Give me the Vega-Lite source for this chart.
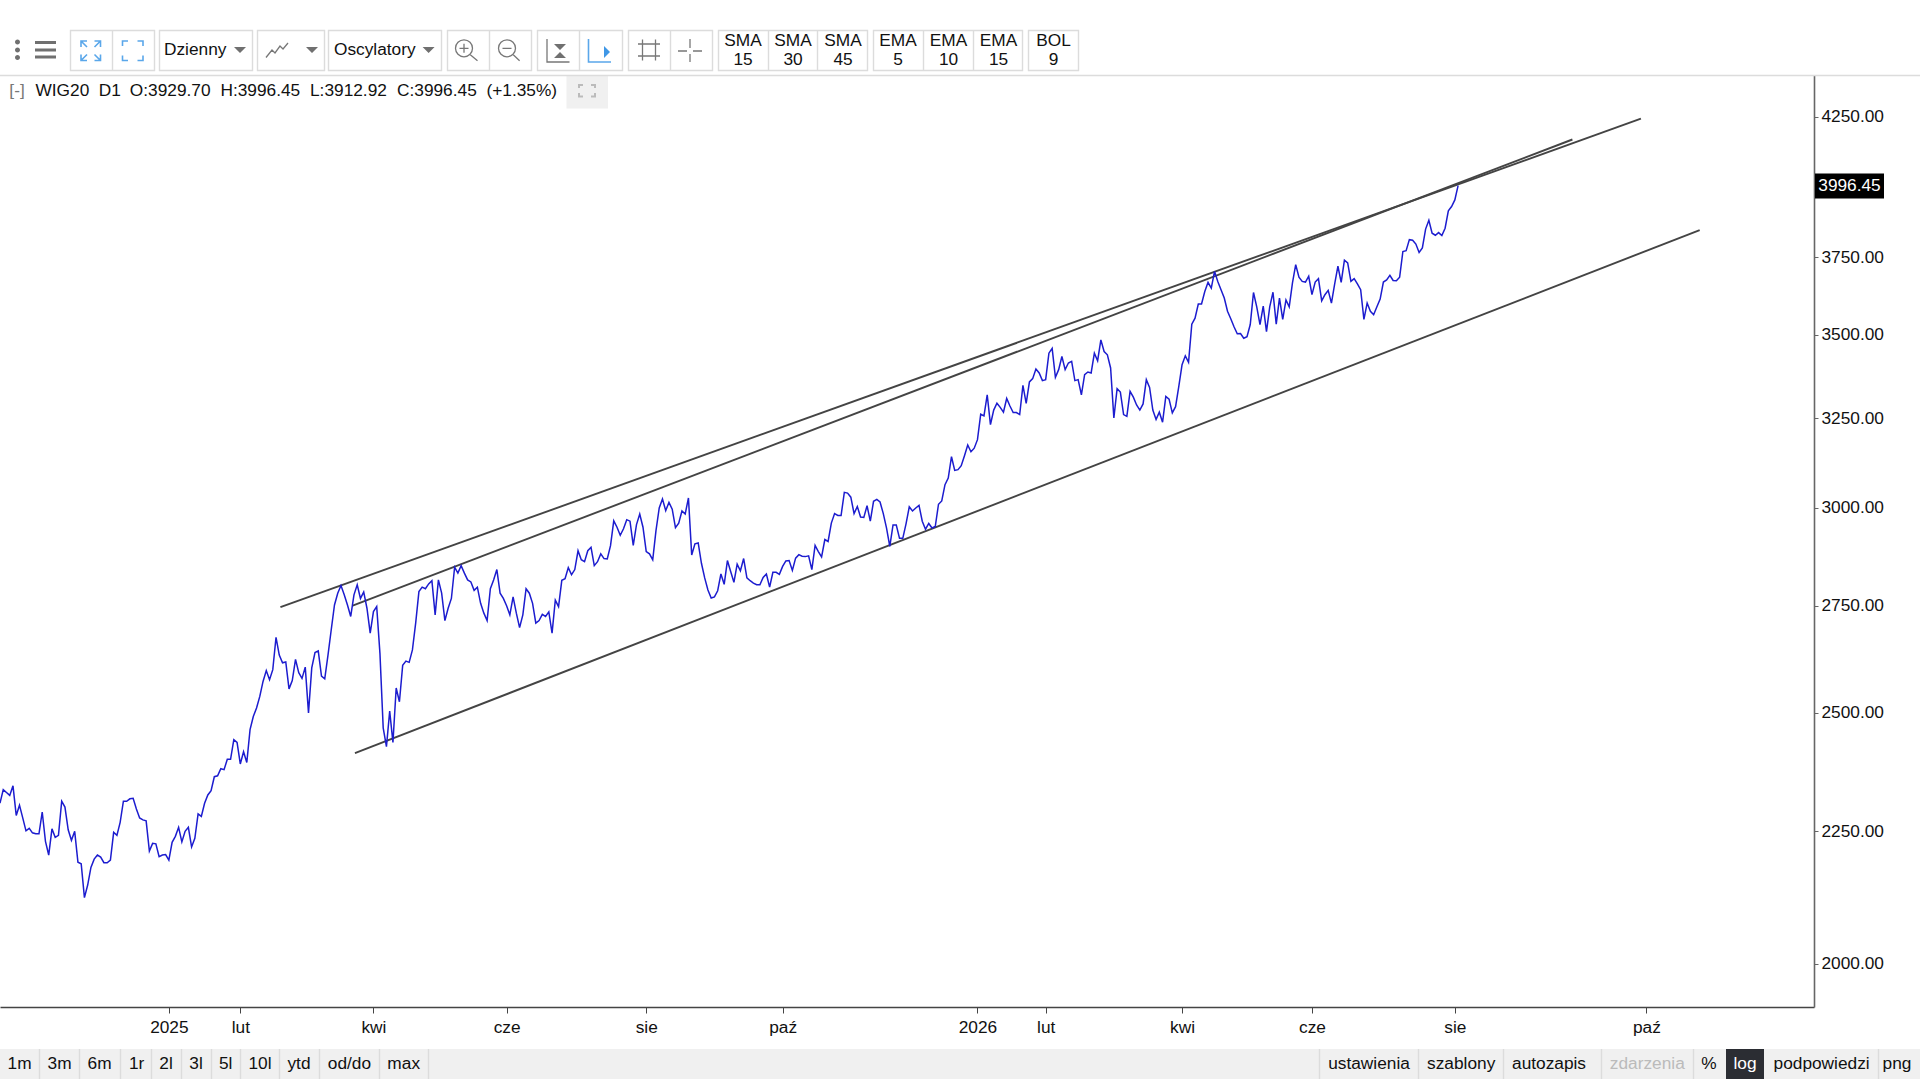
{
"$schema":"https://vega.github.io/schema/vega-lite/v6.json",
"autosize":{"type":"none"},
"padding":{"left":0,"top":75,"right":106,"bottom":73},
"width":1814,"height":932,
"background":"#ffffff",
"config":{"view":{"stroke":null},
"text":{"font":"Liberation Sans","fontSize":17.3,"baseline":"middle","align":"center","color":"#111111"}},
"datasets":{
"trend":[
{"line":"outer","session":86.35,"price":2746.5},{"line":"outer","session":505.3,"price":4241.8},
{"line":"inner","session":108.6,"price":2750.3},{"line":"inner","session":484.2,"price":4164},
{"line":"lower","session":109.3,"price":2412},{"line":"lower","session":523.4,"price":3841.6}],
"wig20":[
{"session":0,"close":2307},{"session":1,"close":2335},{"session":2,"close":2329},{"session":3,"close":2323},{"session":4,"close":2343},{"session":5,"close":2282},{"session":6,"close":2303},{"session":7,"close":2277},{"session":8,"close":2251},{"session":9,"close":2256},
{"session":10,"close":2247},{"session":11,"close":2245},{"session":12,"close":2245},{"session":13,"close":2289},{"session":14,"close":2230},{"session":15,"close":2203},{"session":16,"close":2255},{"session":17,"close":2238},{"session":18,"close":2242},{"session":19,"close":2311},
{"session":20,"close":2299},{"session":21,"close":2253},{"session":22,"close":2232},{"session":23,"close":2250},{"session":24,"close":2189},{"session":25,"close":2186},{"session":26,"close":2121},{"session":27,"close":2145},{"session":28,"close":2179},{"session":29,"close":2195},
{"session":30,"close":2203},{"session":31,"close":2199},{"session":32,"close":2188},{"session":33,"close":2188},{"session":34,"close":2193},{"session":35,"close":2248},{"session":36,"close":2242},{"session":37,"close":2268},{"session":38,"close":2311},{"session":39,"close":2311},
{"session":40,"close":2316},{"session":41,"close":2317},{"session":42,"close":2295},{"session":43,"close":2277},{"session":44,"close":2273},{"session":45,"close":2271},{"session":46,"close":2211},{"session":47,"close":2226},{"session":48,"close":2225},{"session":49,"close":2200},
{"session":50,"close":2203},{"session":51,"close":2204},{"session":52,"close":2193},{"session":53,"close":2228},{"session":54,"close":2240},{"session":55,"close":2258},{"session":56,"close":2229},{"session":57,"close":2250},{"session":58,"close":2258},{"session":59,"close":2219},
{"session":60,"close":2236},{"session":61,"close":2285},{"session":62,"close":2280},{"session":63,"close":2307},{"session":64,"close":2324},{"session":65,"close":2333},{"session":66,"close":2362},{"session":67,"close":2364},{"session":68,"close":2379},{"session":69,"close":2377},
{"session":70,"close":2399},{"session":71,"close":2399},{"session":72,"close":2441},{"session":73,"close":2435},{"session":74,"close":2389},{"session":75,"close":2415},{"session":76,"close":2392},{"session":77,"close":2463},{"session":78,"close":2492},{"session":79,"close":2511},
{"session":80,"close":2537},{"session":81,"close":2571},{"session":82,"close":2596},{"session":83,"close":2575},{"session":84,"close":2598},{"session":85,"close":2674},{"session":86,"close":2632},{"session":87,"close":2614},{"session":88,"close":2616},{"session":89,"close":2554},
{"session":90,"close":2573},{"session":91,"close":2622},{"session":92,"close":2591},{"session":93,"close":2578},{"session":94,"close":2604},{"session":95,"close":2500},{"session":96,"close":2602},{"session":97,"close":2638},{"session":98,"close":2642},{"session":99,"close":2583},
{"session":100,"close":2577},{"session":101,"close":2632},{"session":102,"close":2692},{"session":103,"close":2752},{"session":104,"close":2781},{"session":105,"close":2800},{"session":106,"close":2777},{"session":107,"close":2752},{"session":108,"close":2724},{"session":109,"close":2777},
{"session":110,"close":2802},{"session":111,"close":2768},{"session":112,"close":2784},{"session":113,"close":2744},{"session":114,"close":2684},{"session":115,"close":2736},{"session":116,"close":2748},{"session":117,"close":2636},{"session":118,"close":2467},{"session":119,"close":2426},
{"session":120,"close":2504},{"session":121,"close":2435},{"session":122,"close":2556},{"session":123,"close":2525},{"session":124,"close":2608},{"session":125,"close":2618},{"session":126,"close":2615},{"session":127,"close":2644},{"session":128,"close":2708},{"session":129,"close":2785},
{"session":130,"close":2796},{"session":131,"close":2792},{"session":132,"close":2804},{"session":133,"close":2812},{"session":134,"close":2728},{"session":135,"close":2814},{"session":136,"close":2781},{"session":137,"close":2714},{"session":138,"close":2744},{"session":139,"close":2768},
{"session":140,"close":2846},{"session":141,"close":2831},{"session":142,"close":2850},{"session":143,"close":2831},{"session":144,"close":2814},{"session":145,"close":2809},{"session":146,"close":2788},{"session":147,"close":2796},{"session":148,"close":2756},{"session":149,"close":2732},
{"session":150,"close":2714},{"session":151,"close":2792},{"session":152,"close":2814},{"session":153,"close":2840},{"session":154,"close":2781},{"session":155,"close":2768},{"session":156,"close":2750},{"session":157,"close":2728},{"session":158,"close":2772},{"session":159,"close":2732},
{"session":160,"close":2697},{"session":161,"close":2728},{"session":162,"close":2792},{"session":163,"close":2781},{"session":164,"close":2756},{"session":165,"close":2708},{"session":166,"close":2714},{"session":167,"close":2729},{"session":168,"close":2724},{"session":169,"close":2735},
{"session":170,"close":2684},{"session":171,"close":2764},{"session":172,"close":2748},{"session":173,"close":2813},{"session":174,"close":2817},{"session":175,"close":2845},{"session":176,"close":2827},{"session":177,"close":2840},{"session":178,"close":2888},{"session":179,"close":2865},
{"session":180,"close":2860},{"session":181,"close":2888},{"session":182,"close":2897},{"session":183,"close":2850},{"session":184,"close":2860},{"session":185,"close":2880},{"session":186,"close":2868},{"session":187,"close":2867},{"session":188,"close":2901},{"session":189,"close":2966},
{"session":190,"close":2949},{"session":191,"close":2928},{"session":192,"close":2945},{"session":193,"close":2969},{"session":194,"close":2965},{"session":195,"close":2902},{"session":196,"close":2956},{"session":197,"close":2984},{"session":198,"close":2949},{"session":199,"close":2886},
{"session":200,"close":2880},{"session":201,"close":2865},{"session":202,"close":2940},{"session":203,"close":3000},{"session":204,"close":3024},{"session":205,"close":2993},{"session":206,"close":3015},{"session":207,"close":2997},{"session":208,"close":2948},{"session":209,"close":2960},
{"session":210,"close":2992},{"session":211,"close":2984},{"session":212,"close":3027},{"session":213,"close":2877},{"session":214,"close":2906},{"session":215,"close":2908},{"session":216,"close":2856},{"session":217,"close":2819},{"session":218,"close":2789},{"session":219,"close":2769},
{"session":220,"close":2772},{"session":221,"close":2787},{"session":222,"close":2829},{"session":223,"close":2803},{"session":224,"close":2863},{"session":225,"close":2835},{"session":226,"close":2808},{"session":227,"close":2854},{"session":228,"close":2837},{"session":229,"close":2868},
{"session":230,"close":2819},{"session":231,"close":2812},{"session":232,"close":2806},{"session":233,"close":2802},{"session":234,"close":2802},{"session":235,"close":2820},{"session":236,"close":2829},{"session":237,"close":2796},{"session":238,"close":2833},{"session":239,"close":2833},
{"session":240,"close":2828},{"session":241,"close":2848},{"session":242,"close":2862},{"session":243,"close":2863},{"session":244,"close":2838},{"session":245,"close":2869},{"session":246,"close":2878},{"session":247,"close":2874},{"session":248,"close":2873},{"session":249,"close":2875},
{"session":250,"close":2840},{"session":251,"close":2902},{"session":252,"close":2886},{"session":253,"close":2872},{"session":254,"close":2917},{"session":255,"close":2912},{"session":256,"close":2960},{"session":257,"close":2985},{"session":258,"close":2980},{"session":259,"close":2980},
{"session":260,"close":3042},{"session":261,"close":3040},{"session":262,"close":3029},{"session":263,"close":2985},{"session":264,"close":3004},{"session":265,"close":2976},{"session":266,"close":2975},{"session":267,"close":3006},{"session":268,"close":2965},{"session":269,"close":3018},
{"session":270,"close":3023},{"session":271,"close":3016},{"session":272,"close":2985},{"session":273,"close":2947},{"session":274,"close":2899},{"session":275,"close":2955},{"session":276,"close":2955},{"session":277,"close":2920},{"session":278,"close":2920},{"session":279,"close":2958},
{"session":280,"close":3003},{"session":281,"close":2992},{"session":282,"close":3000},{"session":283,"close":3007},{"session":284,"close":2965},{"session":285,"close":2944},{"session":286,"close":2959},{"session":287,"close":2947},{"session":288,"close":2951},{"session":289,"close":3010},
{"session":290,"close":3019},{"session":291,"close":3063},{"session":292,"close":3081},{"session":293,"close":3140},{"session":294,"close":3102},{"session":295,"close":3104},{"session":296,"close":3115},{"session":297,"close":3143},{"session":298,"close":3173},{"session":299,"close":3154},
{"session":300,"close":3164},{"session":301,"close":3188},{"session":302,"close":3261},{"session":303,"close":3256},{"session":304,"close":3318},{"session":305,"close":3231},{"session":306,"close":3273},{"session":307,"close":3293},{"session":308,"close":3281},{"session":309,"close":3267},
{"session":310,"close":3307},{"session":311,"close":3285},{"session":312,"close":3266},{"session":313,"close":3266},{"session":314,"close":3260},{"session":315,"close":3346},{"session":316,"close":3293},{"session":317,"close":3356},{"session":318,"close":3366},{"session":319,"close":3395},
{"session":320,"close":3383},{"session":321,"close":3360},{"session":322,"close":3363},{"session":323,"close":3443},{"session":324,"close":3458},{"session":325,"close":3370},{"session":326,"close":3393},{"session":327,"close":3433},{"session":328,"close":3393},{"session":329,"close":3413},
{"session":330,"close":3418},{"session":331,"close":3360},{"session":332,"close":3363},{"session":333,"close":3318},{"session":334,"close":3378},{"session":335,"close":3386},{"session":336,"close":3383},{"session":337,"close":3443},{"session":338,"close":3420},{"session":339,"close":3484},
{"session":340,"close":3448},{"session":341,"close":3438},{"session":342,"close":3398},{"session":343,"close":3250},{"session":344,"close":3336},{"session":345,"close":3326},{"session":346,"close":3260},{"session":347,"close":3255},{"session":348,"close":3328},{"session":349,"close":3311},
{"session":350,"close":3288},{"session":351,"close":3273},{"session":352,"close":3291},{"session":353,"close":3363},{"session":354,"close":3340},{"session":355,"close":3273},{"session":356,"close":3246},{"session":357,"close":3267},{"session":358,"close":3238},{"session":359,"close":3313},
{"session":360,"close":3305},{"session":361,"close":3265},{"session":362,"close":3283},{"session":363,"close":3343},{"session":364,"close":3408},{"session":365,"close":3435},{"session":366,"close":3415},{"session":367,"close":3533},{"session":368,"close":3552},{"session":369,"close":3597},
{"session":370,"close":3597},{"session":371,"close":3637},{"session":372,"close":3667},{"session":373,"close":3648},{"session":374,"close":3703},{"session":375,"close":3670},{"session":376,"close":3643},{"session":377,"close":3616},{"session":378,"close":3574},{"session":379,"close":3550},
{"session":380,"close":3525},{"session":381,"close":3503},{"session":382,"close":3504},{"session":383,"close":3489},{"session":384,"close":3494},{"session":385,"close":3532},{"session":386,"close":3634},{"session":387,"close":3588},{"session":388,"close":3532},{"session":389,"close":3590},
{"session":390,"close":3510},{"session":391,"close":3588},{"session":392,"close":3635},{"session":393,"close":3533},{"session":394,"close":3616},{"session":395,"close":3548},{"session":396,"close":3610},{"session":397,"close":3588},{"session":398,"close":3665},{"session":399,"close":3725},
{"session":400,"close":3684},{"session":401,"close":3670},{"session":402,"close":3668},{"session":403,"close":3687},{"session":404,"close":3627},{"session":405,"close":3668},{"session":406,"close":3679},{"session":407,"close":3607},{"session":408,"close":3627},{"session":409,"close":3641},
{"session":410,"close":3600},{"session":411,"close":3662},{"session":412,"close":3720},{"session":413,"close":3667},{"session":414,"close":3740},{"session":415,"close":3731},{"session":416,"close":3670},{"session":417,"close":3679},{"session":418,"close":3662},{"session":419,"close":3643},
{"session":420,"close":3548},{"session":421,"close":3600},{"session":422,"close":3574},{"session":423,"close":3563},{"session":424,"close":3588},{"session":425,"close":3613},{"session":426,"close":3668},{"session":427,"close":3675},{"session":428,"close":3690},{"session":429,"close":3673},
{"session":430,"close":3672},{"session":431,"close":3684},{"session":432,"close":3769},{"session":433,"close":3772},{"session":434,"close":3809},{"session":435,"close":3807},{"session":436,"close":3794},{"session":437,"close":3766},{"session":438,"close":3781},{"session":439,"close":3845},
{"session":440,"close":3875},{"session":441,"close":3831},{"session":442,"close":3824},{"session":443,"close":3833},{"session":444,"close":3823},{"session":445,"close":3848},{"session":446,"close":3908},{"session":447,"close":3923},{"session":448,"close":3946},{"session":449,"close":3996.45}
]},
"layer":[
{"layer":[
{"data":{"values":[{"part":"range bar"}]},"mark":{"type":"rect","color":"#f0f0f0"},"encoding":{"x":{"datum":0,"axis":null,"scale":{"domain":[0,1814],"nice":false,"zero":false}},"x2":{"datum":1920},"y":{"datum":1049,"axis":null,"scale":{"domain":[1007,75],"nice":false,"zero":false}},"y2":{"datum":1079}}},
{"data":{"values":[{"part":"log"}]},"mark":{"type":"rect","color":"#2b2d33"},"encoding":{"x":{"datum":1726,"axis":null},"x2":{"datum":1764},"y":{"datum":1049,"axis":null},"y2":{"datum":1079}}},
{"data":{"values":[{"part":"last price"}]},"mark":{"type":"rect","color":"#000000"},"encoding":{"x":{"datum":1815,"axis":null},"x2":{"datum":1884},"y":{"datum":173.5,"axis":null},"y2":{"datum":198.5}}},
{"data":{"values":[{"part":"fullscreen"}]},"mark":{"type":"rect","color":"#f0f0f0"},"encoding":{"x":{"datum":566.5,"axis":null},"x2":{"datum":608,"axis":null},"y":{"datum":76,"axis":null},"y2":{"datum":108.5}}},
{"data":{"values":[{"icon":"boxes"}]},"mark":{"type":"point","size":4,"opacity":1,"filled":false,"stroke":"#dcdcdc","strokeWidth":1.4,"shape":"M70.5 30.5H154.5V70.5H70.5Z M112.5 30.5V70.5 M159.5 30.5H252.5V70.5H159.5Z M257.5 30.5H324.5V70.5H257.5Z M328.5 30.5H441.5V70.5H328.5Z M447.5 30.5H531.5V70.5H447.5Z M489.5 30.5V70.5 M537.5 30.5H622.5V70.5H537.5Z M579.5 30.5V70.5 M628.5 30.5H712.5V70.5H628.5Z M670.5 30.5V70.5 M718.5 30.5H867.5V70.5H718.5Z M768.5 30.5V70.5 M817.5 30.5V70.5 M873.5 30.5H1022.5V70.5H873.5Z M923.5 30.5V70.5 M973.5 30.5V70.5 M1028.5 30.5H1078.5V70.5H1028.5Z M0 75.5H1814 M1814 75.5H1920 M39.5 1049V1079 M79.5 1049V1079 M120.5 1049V1079 M151.5 1049V1079 M181.5 1049V1079 M211.5 1049V1079 M240.5 1049V1079 M279.5 1049V1079 M319.5 1049V1079 M379.5 1049V1079 M428.5 1049V1079 M1319.5 1049V1079 M1418.5 1049V1079 M1503.5 1049V1079 M1601.5 1049V1079 M1693.5 1049V1079 M1878.5 1049V1079"},"encoding":{"x":{"datum":0,"axis":null},"y":{"datum":0,"axis":null}}},
{"data":{"values":[{"icon":"menu and arrows"}]},"mark":{"type":"point","size":4,"opacity":1,"filled":true,"fill":"#707070","shape":"M20 42a2.5 2.5 0 1 1-5 0a2.5 2.5 0 1 1 5 0Z M20 50a2.5 2.5 0 1 1-5 0a2.5 2.5 0 1 1 5 0Z M20 57.5a2.5 2.5 0 1 1-5 0a2.5 2.5 0 1 1 5 0Z M35 41h21v3h-21Z M35 48.5h21v3h-21Z M35 55.5h21v3h-21Z M234 47h12l-6 6Z M306 47h12l-6 6Z M422.6 47h12l-6 6Z M554 44h12l-6 6Z M554 58h12l-6 -6Z"},"encoding":{"x":{"datum":0,"axis":null},"y":{"datum":0,"axis":null}}},
{"data":{"values":[{"icon":"blue outlines"}]},"mark":{"type":"point","size":4,"opacity":1,"filled":false,"stroke":"#5aa7ea","strokeWidth":1.6,"shape":"M81 47V41H87 M81 41L87 47 M100.5 47V41H94.5 M100.5 41L94.5 47 M81 54.5V60.5H87 M81 60.5L87 54.5 M100.5 54.5V60.5H94.5 M100.5 60.5L94.5 54.5 M122.5 46V41H128 M137.5 41H143V46 M143 55.5V60.5H137.5 M128 60.5H122.5V55.5 M588.5 39V62H611"},"encoding":{"x":{"datum":0,"axis":null},"y":{"datum":0,"axis":null}}},
{"data":{"values":[{"icon":"blue play"}]},"mark":{"type":"point","size":4,"opacity":1,"filled":true,"fill":"#3f97e6","shape":"M604 46l6 6-6 6Z"},"encoding":{"x":{"datum":0,"axis":null},"y":{"datum":0,"axis":null}}},
{"data":{"values":[{"icon":"grey outlines"}]},"mark":{"type":"point","size":4,"opacity":1,"filled":false,"stroke":"#777777","strokeWidth":1.3,"shape":"M266 57.5L272 50L275 53L280 46L283 49L288 43 M472.5 48.3a8.5 8.5 0 1 1-17 0a8.5 8.5 0 1 1 17 0Z M470 54.5L477.5 60.7 M459.5 48.3h9 M464 43.8v9 M515.5 48.3a8.5 8.5 0 1 1-17 0a8.5 8.5 0 1 1 17 0Z M513 54.5L519.6 60.7 M502.5 48.3h9 M547 39V62H569.5 M642.5 39.5V60.5 M655.5 39.5V60.5 M638 44H660 M638 56H660 M678 51H687 M693 51H702 M690 39V48 M690 54V62"},"encoding":{"x":{"datum":0,"axis":null},"y":{"datum":0,"axis":null}}},
{"data":{"values":[{"icon":"fullscreen corners"}]},"mark":{"type":"point","size":4,"opacity":1,"filled":false,"stroke":"#bbbbbb","strokeWidth":2,"shape":"M579 88V85H583 M591 85H595V88 M595 93V96.5H591 M583 96.5H579V93"},"encoding":{"x":{"datum":0,"axis":null},"y":{"datum":0,"axis":null}}},
{"data":{"values":[{"label":"Dzienny"}]},"mark":{"type":"text","align":"left"},"encoding":{"x":{"datum":164,"axis":null},"y":{"datum":50,"axis":null},"text":{"field":"label"}}},
{"data":{"values":[{"label":"Oscylatory"}]},"mark":{"type":"text","align":"left"},"encoding":{"x":{"datum":334,"axis":null},"y":{"datum":50,"axis":null},"text":{"field":"label"}}},
{"data":{"values":[{"label":"SMA"}]},"mark":"text","encoding":{"x":{"datum":743,"axis":null},"y":{"datum":41,"axis":null},"text":{"field":"label"}}},
{"data":{"values":[{"label":"15"}]},"mark":"text","encoding":{"x":{"datum":743,"axis":null},"y":{"datum":60,"axis":null},"text":{"field":"label"}}},
{"data":{"values":[{"label":"SMA"}]},"mark":"text","encoding":{"x":{"datum":793,"axis":null},"y":{"datum":41,"axis":null},"text":{"field":"label"}}},
{"data":{"values":[{"label":"30"}]},"mark":"text","encoding":{"x":{"datum":793,"axis":null},"y":{"datum":60,"axis":null},"text":{"field":"label"}}},
{"data":{"values":[{"label":"SMA"}]},"mark":"text","encoding":{"x":{"datum":843,"axis":null},"y":{"datum":41,"axis":null},"text":{"field":"label"}}},
{"data":{"values":[{"label":"45"}]},"mark":"text","encoding":{"x":{"datum":843,"axis":null},"y":{"datum":60,"axis":null},"text":{"field":"label"}}},
{"data":{"values":[{"label":"EMA"}]},"mark":"text","encoding":{"x":{"datum":898,"axis":null},"y":{"datum":41,"axis":null},"text":{"field":"label"}}},
{"data":{"values":[{"label":"5"}]},"mark":"text","encoding":{"x":{"datum":898,"axis":null},"y":{"datum":60,"axis":null},"text":{"field":"label"}}},
{"data":{"values":[{"label":"EMA"}]},"mark":"text","encoding":{"x":{"datum":948.5,"axis":null},"y":{"datum":41,"axis":null},"text":{"field":"label"}}},
{"data":{"values":[{"label":"10"}]},"mark":"text","encoding":{"x":{"datum":948.5,"axis":null},"y":{"datum":60,"axis":null},"text":{"field":"label"}}},
{"data":{"values":[{"label":"EMA"}]},"mark":"text","encoding":{"x":{"datum":998.5,"axis":null},"y":{"datum":41,"axis":null},"text":{"field":"label"}}},
{"data":{"values":[{"label":"15"}]},"mark":"text","encoding":{"x":{"datum":998.5,"axis":null},"y":{"datum":60,"axis":null},"text":{"field":"label"}}},
{"data":{"values":[{"label":"BOL"}]},"mark":"text","encoding":{"x":{"datum":1053.5,"axis":null},"y":{"datum":41,"axis":null},"text":{"field":"label"}}},
{"data":{"values":[{"label":"9"}]},"mark":"text","encoding":{"x":{"datum":1053.5,"axis":null},"y":{"datum":60,"axis":null},"text":{"field":"label"}}},
{"data":{"values":[{"label":"[-]"}]},"mark":{"type":"text","color":"#777777"},"encoding":{"x":{"datum":17,"axis":null},"y":{"datum":91,"axis":null},"text":{"field":"label"}}},
{"data":{"values":[{"label":"WIG20"}]},"mark":{"type":"text","align":"left"},"encoding":{"x":{"datum":35.5,"axis":null},"y":{"datum":91,"axis":null},"text":{"field":"label"}}},
{"data":{"values":[{"label":"D1"}]},"mark":{"type":"text","align":"left"},"encoding":{"x":{"datum":98.8,"axis":null},"y":{"datum":91,"axis":null},"text":{"field":"label"}}},
{"data":{"values":[{"label":"O:3929.70"}]},"mark":{"type":"text","align":"left"},"encoding":{"x":{"datum":129.8,"axis":null},"y":{"datum":91,"axis":null},"text":{"field":"label"}}},
{"data":{"values":[{"label":"H:3996.45"}]},"mark":{"type":"text","align":"left"},"encoding":{"x":{"datum":220.4,"axis":null},"y":{"datum":91,"axis":null},"text":{"field":"label"}}},
{"data":{"values":[{"label":"L:3912.92"}]},"mark":{"type":"text","align":"left"},"encoding":{"x":{"datum":310,"axis":null},"y":{"datum":91,"axis":null},"text":{"field":"label"}}},
{"data":{"values":[{"label":"C:3996.45"}]},"mark":{"type":"text","align":"left"},"encoding":{"x":{"datum":397,"axis":null},"y":{"datum":91,"axis":null},"text":{"field":"label"}}},
{"data":{"values":[{"label":"(+1.35%)"}]},"mark":{"type":"text","align":"left"},"encoding":{"x":{"datum":486.5,"axis":null},"y":{"datum":91,"axis":null},"text":{"field":"label"}}},
{"data":{"values":[{"label":"3996.45"}]},"mark":{"type":"text","color":"#ffffff"},"encoding":{"x":{"datum":1849.5,"axis":null},"y":{"datum":186,"axis":null},"text":{"field":"label"}}},
{"data":{"values":[{"label":"1m"}]},"mark":"text","encoding":{"x":{"datum":19.6,"axis":null},"y":{"datum":1064,"axis":null},"text":{"field":"label"}}},
{"data":{"values":[{"label":"3m"}]},"mark":"text","encoding":{"x":{"datum":59.6,"axis":null},"y":{"datum":1064,"axis":null},"text":{"field":"label"}}},
{"data":{"values":[{"label":"6m"}]},"mark":"text","encoding":{"x":{"datum":99.6,"axis":null},"y":{"datum":1064,"axis":null},"text":{"field":"label"}}},
{"data":{"values":[{"label":"1r"}]},"mark":"text","encoding":{"x":{"datum":136.7,"axis":null},"y":{"datum":1064,"axis":null},"text":{"field":"label"}}},
{"data":{"values":[{"label":"2l"}]},"mark":"text","encoding":{"x":{"datum":166,"axis":null},"y":{"datum":1064,"axis":null},"text":{"field":"label"}}},
{"data":{"values":[{"label":"3l"}]},"mark":"text","encoding":{"x":{"datum":196,"axis":null},"y":{"datum":1064,"axis":null},"text":{"field":"label"}}},
{"data":{"values":[{"label":"5l"}]},"mark":"text","encoding":{"x":{"datum":225.7,"axis":null},"y":{"datum":1064,"axis":null},"text":{"field":"label"}}},
{"data":{"values":[{"label":"10l"}]},"mark":"text","encoding":{"x":{"datum":260,"axis":null},"y":{"datum":1064,"axis":null},"text":{"field":"label"}}},
{"data":{"values":[{"label":"ytd"}]},"mark":"text","encoding":{"x":{"datum":299,"axis":null},"y":{"datum":1064,"axis":null},"text":{"field":"label"}}},
{"data":{"values":[{"label":"od/do"}]},"mark":"text","encoding":{"x":{"datum":349.4,"axis":null},"y":{"datum":1064,"axis":null},"text":{"field":"label"}}},
{"data":{"values":[{"label":"max"}]},"mark":"text","encoding":{"x":{"datum":403.7,"axis":null},"y":{"datum":1064,"axis":null},"text":{"field":"label"}}},
{"data":{"values":[{"label":"ustawienia"}]},"mark":"text","encoding":{"x":{"datum":1369,"axis":null},"y":{"datum":1064,"axis":null},"text":{"field":"label"}}},
{"data":{"values":[{"label":"szablony"}]},"mark":"text","encoding":{"x":{"datum":1461.2,"axis":null},"y":{"datum":1064,"axis":null},"text":{"field":"label"}}},
{"data":{"values":[{"label":"autozapis"}]},"mark":"text","encoding":{"x":{"datum":1549,"axis":null},"y":{"datum":1064,"axis":null},"text":{"field":"label"}}},
{"data":{"values":[{"label":"zdarzenia"}]},"mark":{"type":"text","color":"#bbbbbb"},"encoding":{"x":{"datum":1647.3,"axis":null},"y":{"datum":1064,"axis":null},"text":{"field":"label"}}},
{"data":{"values":[{"label":"%"}]},"mark":"text","encoding":{"x":{"datum":1709,"axis":null},"y":{"datum":1064,"axis":null},"text":{"field":"label"}}},
{"data":{"values":[{"label":"log"}]},"mark":{"type":"text","color":"#ffffff"},"encoding":{"x":{"datum":1745,"axis":null},"y":{"datum":1064,"axis":null},"text":{"field":"label"}}},
{"data":{"values":[{"label":"podpowiedzi"}]},"mark":"text","encoding":{"x":{"datum":1821.6,"axis":null},"y":{"datum":1064,"axis":null},"text":{"field":"label"}}},
{"data":{"values":[{"label":"png"}]},"mark":"text","encoding":{"x":{"datum":1897,"axis":null},"y":{"datum":1064,"axis":null},"text":{"field":"label"}}}
]},
{"layer":[
{"data":{"name":"trend"},"mark":{"type":"line","color":"#444444","strokeWidth":1.9},"encoding":{
"x":{"field":"session","type":"quantitative","scale":{"domain":[0,558.6],"nice":false,"zero":false},
"axis":{"title":null,"orient":"bottom","grid":false,"values":[52,74,115,156,199,241,301,322,364,404,448,507],"labelExpr":"['2025','lut','kwi','cze','sie','paź','2026','lut','kwi','cze','sie','paź'][indexof([52,74,115,156,199,241,301,322,364,404,448,507],datum.value)]","labelFont":"Liberation Sans","labelFontSize":17.3,"labelColor":"#111111","labelPadding":5,"labelFlush":false,"labelOverlap":false,"tickColor":"#444444","tickSize":6,"tickWidth":1,"domainColor":"#444444","domainWidth":1.6}},
"y":{"field":"price","type":"quantitative","scale":{"type":"log","domain":[1924.4,4410],"nice":false},
"axis":{"title":null,"orient":"right","grid":false,"values":[2000,2250,2500,2750,3000,3250,3500,3750,4250],"format":".2f","labelFont":"Liberation Sans","labelFontSize":17.3,"labelColor":"#111111","labelPadding":3,"labelOverlap":false,"labelFlush":false,"tickColor":"#666666","tickSize":4,"tickWidth":1,"domainColor":"#666666","domainWidth":1.6}},
"detail":{"field":"line"}}},
{"data":{"name":"wig20"},"mark":{"type":"line","color":"#1c1ccf","strokeWidth":1.5},"encoding":{
"x":{"field":"session","type":"quantitative","scale":{"domain":[0,558.6],"nice":false,"zero":false},
"axis":{"title":null,"orient":"bottom","grid":false,"values":[52,74,115,156,199,241,301,322,364,404,448,507],"labelExpr":"['2025','lut','kwi','cze','sie','paź','2026','lut','kwi','cze','sie','paź'][indexof([52,74,115,156,199,241,301,322,364,404,448,507],datum.value)]","labelFont":"Liberation Sans","labelFontSize":17.3,"labelColor":"#111111","labelPadding":5,"labelFlush":false,"labelOverlap":false,"tickColor":"#444444","tickSize":6,"tickWidth":1,"domainColor":"#444444","domainWidth":1.6}},
"y":{"field":"close","type":"quantitative","scale":{"type":"log","domain":[1924.4,4410],"nice":false},
"axis":{"title":null,"orient":"right","grid":false,"values":[2000,2250,2500,2750,3000,3250,3500,3750,4250],"format":".2f","labelFont":"Liberation Sans","labelFontSize":17.3,"labelColor":"#111111","labelPadding":3,"labelOverlap":false,"labelFlush":false,"tickColor":"#666666","tickSize":4,"tickWidth":1,"domainColor":"#666666","domainWidth":1.6}}}}
]}
],
"resolve":{"scale":{"x":"independent","y":"independent"}}
}
